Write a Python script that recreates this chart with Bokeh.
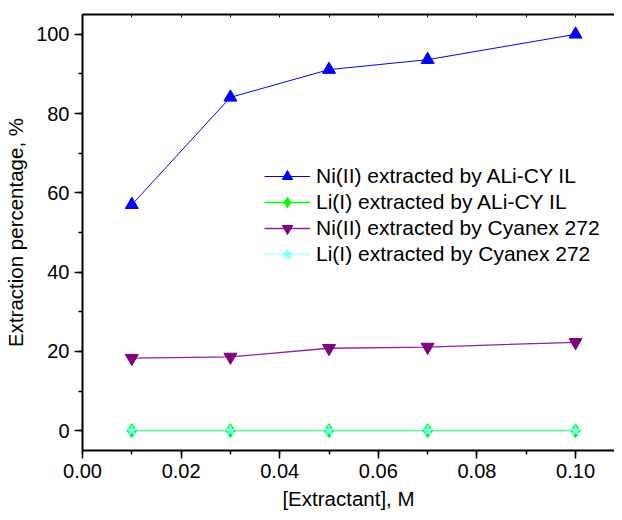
import numpy as np
from bokeh.plotting import figure
from bokeh.models import (LinearAxis, SingleIntervalTicker, FixedTicker, Range1d, Legend, LegendItem,
                          NumeralTickFormatter)
from bokeh.embed import file_html
from bokeh.resources import INLINE

# data
extractant = [0.01, 0.03, 0.05, 0.07, 0.10]
ni_alicy = [57.0, 84.1, 91.1, 93.6, 100.0]
li_alicy = [0.0, 0.0, 0.0, 0.0, 0.0]
ni_cyanex = [18.3, 18.6, 20.8, 21.1, 22.3]
li_cyanex = [0.0, 0.0, 0.0, 0.0, 0.0]
series_labels = ["Ni(II) extracted by ALi-CY IL", "Li(I) extracted by ALi-CY IL",
                 "Ni(II) extracted by Cyanex 272", "Li(I) extracted by Cyanex 272"]

FONT = "Liberation Sans"

p = figure(width=614, height=512, output_backend="svg", toolbar_location=None,
           x_range=Range1d(0, 0.1079), y_range=Range1d(-5, 105),
           min_border_left=82, min_border_right=0, min_border_top=14, min_border_bottom=61,
           x_axis_label="[Extractant], M", y_axis_label="Extraction percentage, %")
p.outline_line_color = None
p.xgrid.visible = False
p.ygrid.visible = False

p.xaxis.ticker = SingleIntervalTicker(interval=0.02, num_minor_ticks=2)
p.xaxis.formatter = NumeralTickFormatter(format="0.00")
p.yaxis.ticker = SingleIntervalTicker(interval=20, num_minor_ticks=2)

for ax in (p.xaxis[0], p.yaxis[0]):
    ax.axis_line_width = 2
    ax.axis_line_color = "black"
    ax.major_tick_line_width = 1.5
    ax.minor_tick_line_width = 1.5
    ax.major_tick_out = 8
    ax.major_tick_in = 0
    ax.minor_tick_out = 4
    ax.minor_tick_in = 0
    ax.major_label_text_font = FONT
    ax.major_label_text_font_size = "20px"
    ax.major_label_text_color = "black"
    ax.axis_label_text_font = FONT
    ax.axis_label_text_font_size = "20.5px"
    ax.axis_label_text_font_style = "normal"
    ax.axis_label_text_color = "black"
    ax.major_label_standoff = 5
    ax.axis_label_standoff = 6

# top frame line with small inward ticks (minor ticks only, no labels)
top_minor = [round(v, 2) for v in np.arange(0.0, 0.1001, 0.01)]
top = LinearAxis(ticker=FixedTicker(ticks=[], minor_ticks=top_minor))
top.axis_line_width = 2
top.axis_line_color = "black"
top.major_tick_line_color = None
top.minor_tick_in = 3
top.minor_tick_out = 0
top.minor_tick_line_width = 1
top.minor_tick_line_color = "black"
p.add_layout(top, "above")

# lines
r1l = p.line(extractant, ni_alicy, line_color="#0000FF", line_width=1)
r3l = p.line(extractant, ni_cyanex, line_color="#9020A0", line_width=1.3)
r2l = p.line(extractant, li_alicy, line_color="#00FF00", line_width=1.3)
r4l = p.line(extractant, li_cyanex, line_color="#80FFFF", line_width=1.3, line_alpha=0.6)

# markers
r1m = p.scatter(extractant, ni_alicy, marker="triangle", size=13, fill_color="#0000FF", line_color="#0000FF")
r3m = p.scatter(extractant, ni_cyanex, marker="inverted_triangle", size=13, fill_color="#800080", line_color="#800080")
r2m = p.scatter(extractant, li_alicy, marker="diamond", size=14,
                fill_color="#00FF00", line_color="#00FF00")
r4m = p.scatter(extractant, li_cyanex, marker="star", size=11, fill_color="#80FFFF", line_color="#80FFFF")

legend = Legend(items=[
    LegendItem(label=series_labels[0], renderers=[r1l, r1m]),
    LegendItem(label=series_labels[1], renderers=[r2l, r2m]),
    LegendItem(label=series_labels[2], renderers=[r3l, r3m]),
    LegendItem(label=series_labels[3], renderers=[r4l, r4m]),
], location=(182, 183))
legend.border_line_color = None
legend.background_fill_alpha = 0
legend.padding = 0
legend.margin = 0
legend.spacing = 0
legend.glyph_width = 46
legend.glyph_height = 26
legend.label_height = 26
legend.label_standoff = 6
legend.label_text_font = FONT
legend.label_text_font_size = "21px"
legend.label_text_color = "black"
p.add_layout(legend, "center")

open("out.html", "w").write(file_html(p, INLINE))
